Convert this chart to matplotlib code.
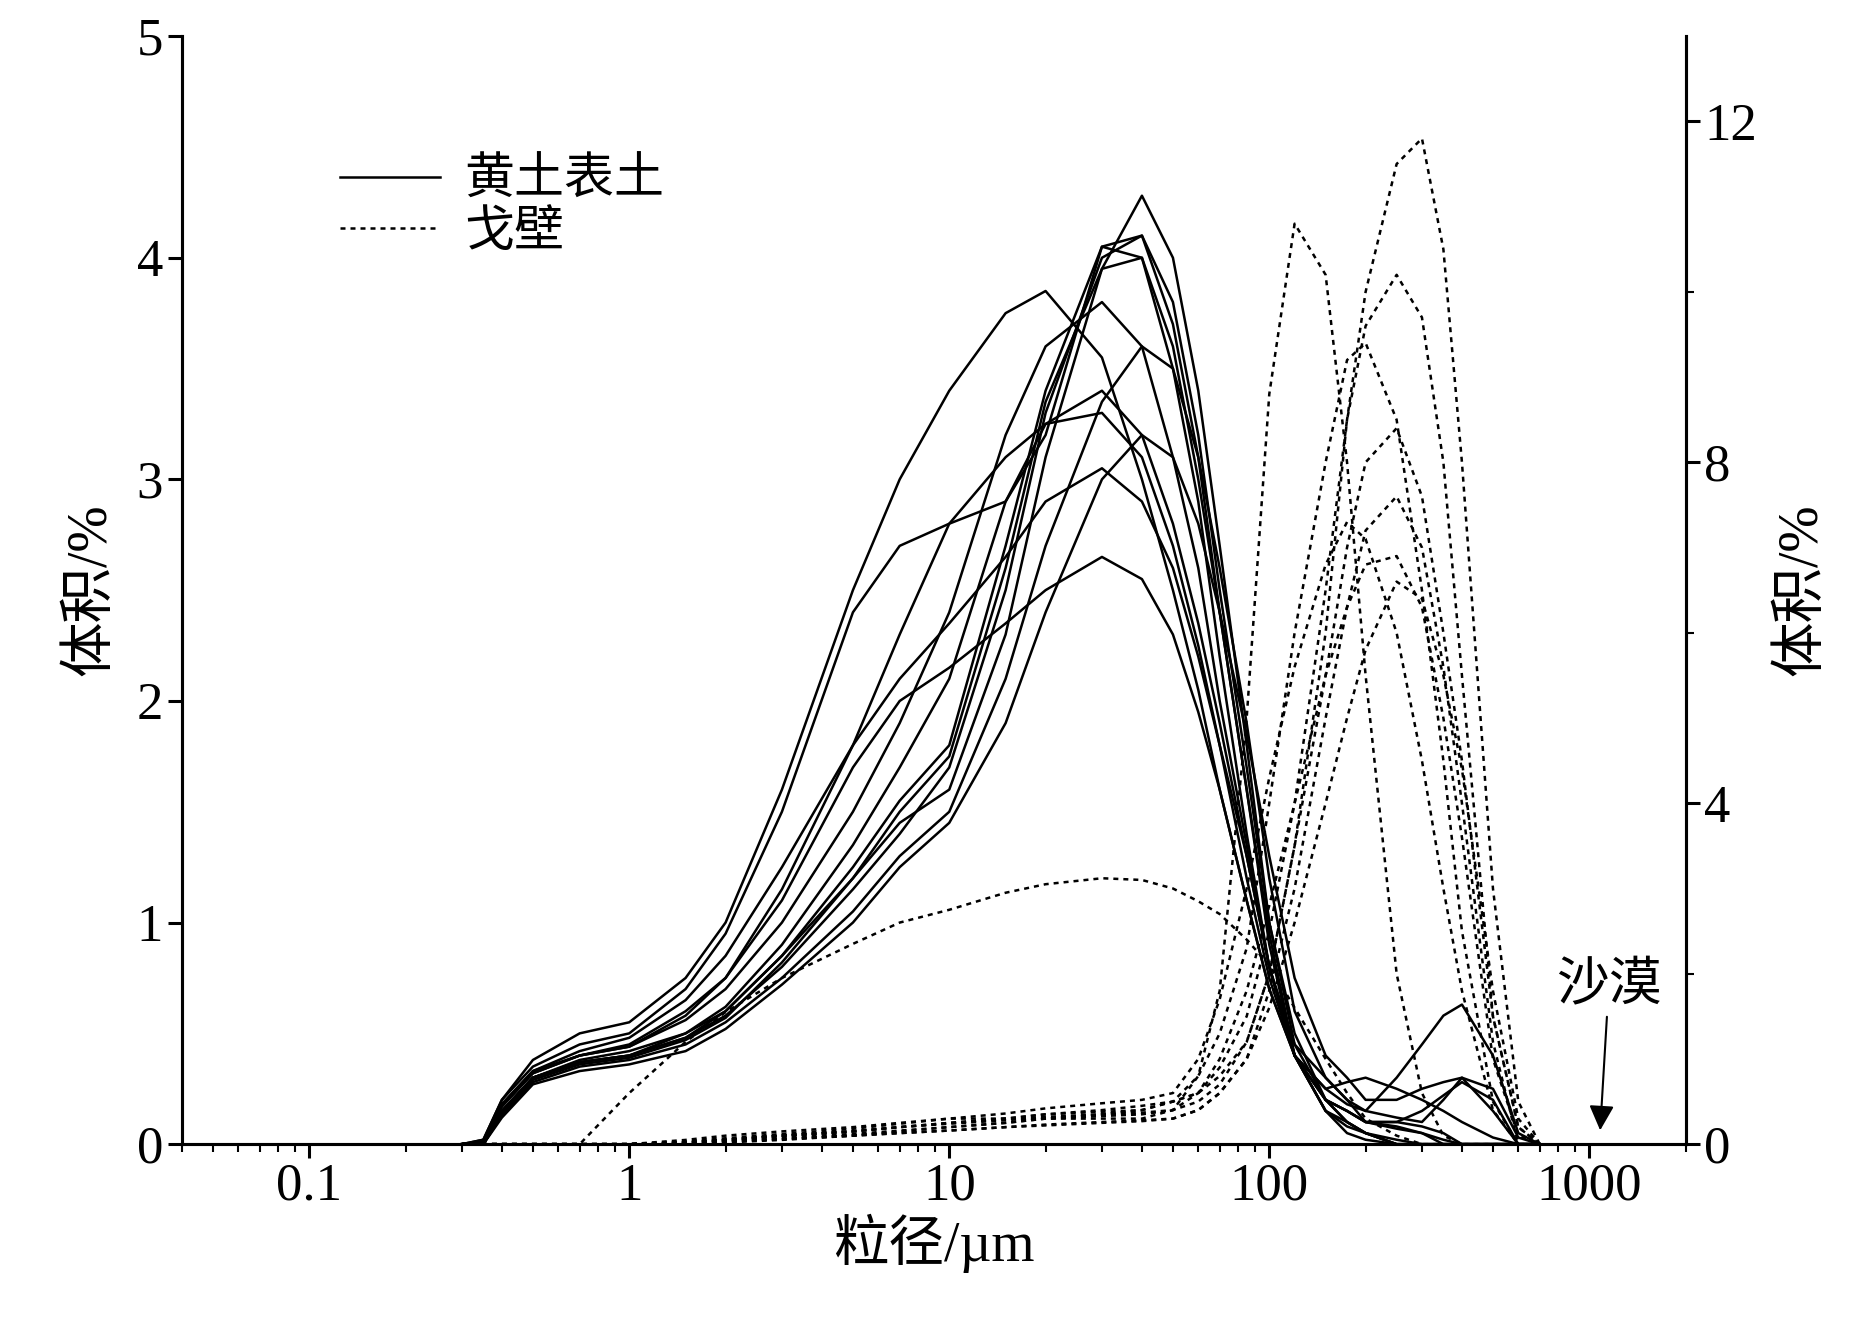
import matplotlib
matplotlib.use("Agg")
import matplotlib.pyplot as plt
from matplotlib.ticker import LogLocator, NullFormatter, MultipleLocator

plt.rcParams['font.family'] = ['Liberation Serif', 'Noto Sans CJK SC']

# 粒径网格 (µm)
size_um = [0.3, 0.35, 0.4, 0.5, 0.7, 1, 1.5, 2, 3, 5, 7, 10, 15, 20, 30, 40, 50,
           60, 70, 85, 100, 120, 150, 175, 200, 250, 300, 350, 400, 500, 600, 700]

# 黄土表土 (左轴, %)
loess = [
    [0, 0, 0.15, 0.3, 0.38, 0.42, 0.5, 0.6, 0.85, 1.2, 1.45, 1.6, 2.3, 3.1, 3.95, 4.28, 4.0,
     3.4, 2.7, 1.8, 1.0, 0.45, 0.2, 0.1, 0.05, 0, 0, 0, 0, 0, 0, 0],
    [0, 0, 0.15, 0.3, 0.37, 0.4, 0.48, 0.58, 0.8, 1.15, 1.4, 1.7, 2.5, 3.3, 4.0, 4.1, 3.7,
     3.1, 2.4, 1.6, 0.9, 0.4, 0.15, 0.08, 0.05, 0.02, 0, 0, 0, 0, 0, 0],
    [0, 0.02, 0.2, 0.38, 0.5, 0.55, 0.75, 1.0, 1.6, 2.5, 3.0, 3.4, 3.75, 3.85, 3.55, 3.0, 2.5,
     2.05, 1.6, 1.1, 0.7, 0.4, 0.2, 0.15, 0.1, 0.07, 0.05, 0.02, 0, 0, 0, 0],
    [0, 0.02, 0.2, 0.35, 0.45, 0.5, 0.7, 0.95, 1.5, 2.4, 2.7, 2.8, 2.9, 3.2, 4.05, 4.0, 3.5,
     2.9, 2.2, 1.4, 0.8, 0.4, 0.25, 0.28, 0.3, 0.25, 0.2, 0.15, 0.1, 0.03, 0, 0],
    [0, 0.01, 0.18, 0.33, 0.42, 0.48, 0.65, 0.85, 1.25, 1.8, 2.1, 2.35, 2.65, 2.9, 3.05, 2.9, 2.6,
     2.2, 1.8, 1.3, 0.8, 0.45, 0.3, 0.2, 0.15, 0.12, 0.1, 0.2, 0.3, 0.25, 0.03, 0],
    [0, 0.01, 0.18, 0.33, 0.4, 0.45, 0.6, 0.75, 1.1, 1.7, 2.0, 2.15, 2.35, 2.5, 2.65, 2.55, 2.3,
     1.95, 1.6, 1.1, 0.7, 0.4, 0.25, 0.18, 0.15, 0.3, 0.45, 0.58, 0.63, 0.4, 0.05, 0],
    [0, 0, 0.15, 0.3, 0.37, 0.4, 0.5, 0.62, 0.9, 1.35, 1.7, 2.1, 2.9, 3.25, 3.4, 3.2, 2.8,
     2.35, 1.9, 1.3, 0.8, 0.4, 0.2, 0.1, 0.05, 0, 0, 0, 0, 0, 0, 0],
    [0, 0, 0.13, 0.28, 0.35, 0.38, 0.45, 0.55, 0.75, 1.05, 1.3, 1.5, 2.1, 2.7, 3.35, 3.6, 3.5,
     3.1, 2.6, 1.9, 1.2, 0.6, 0.3, 0.2, 0.1, 0.1, 0.15, 0.22, 0.28, 0.2, 0, 0],
    [0, 0, 0.12, 0.27, 0.33, 0.36, 0.42, 0.52, 0.72, 1.0, 1.25, 1.45, 1.9, 2.4, 3.0, 3.2, 3.1,
     2.8, 2.4, 1.85, 1.3, 0.75, 0.4, 0.3, 0.2, 0.2, 0.25, 0.28, 0.3, 0.15, 0, 0],
    [0, 0, 0.14, 0.29, 0.36, 0.39, 0.47, 0.57, 0.82, 1.2, 1.5, 1.75, 2.6, 3.35, 3.95, 4.0, 3.6,
     3.0, 2.4, 1.6, 0.95, 0.4, 0.15, 0.05, 0.02, 0, 0, 0, 0, 0, 0, 0],
    [0, 0.01, 0.17, 0.32, 0.4, 0.44, 0.56, 0.7, 1.0, 1.5, 1.9, 2.4, 3.2, 3.6, 3.8, 3.6, 3.1,
     2.6, 2.0, 1.35, 0.8, 0.4, 0.15, 0.1, 0.05, 0, 0, 0, 0, 0, 0, 0],
    [0, 0.01, 0.17, 0.32, 0.4, 0.44, 0.58, 0.75, 1.15, 1.8, 2.3, 2.8, 3.1, 3.25, 3.3, 3.1, 2.7,
     2.25, 1.8, 1.2, 0.75, 0.4, 0.2, 0.15, 0.1, 0.08, 0.05, 0, 0, 0, 0, 0],
    [0, 0, 0.14, 0.3, 0.37, 0.4, 0.48, 0.6, 0.85, 1.25, 1.55, 1.8, 2.7, 3.4, 4.05, 4.1, 3.8,
     3.2, 2.5, 1.7, 1.0, 0.5, 0.2, 0.15, 0.1, 0.1, 0.08, 0.05, 0, 0, 0, 0],
]

# 戈壁 (右轴, %)
gobi = [
    [0, 0, 0, 0, 0, 0, 0.05, 0.1, 0.15, 0.2, 0.25, 0.3, 0.3, 0.3, 0.3, 0.3, 0.4,
     0.8, 1.8, 5.0, 8.8, 10.8, 10.2, 8.0, 5.5, 2.0, 0.6, 0.1, 0, 0, 0, 0],
    [0, 0, 0, 0, 0, 0, 0.02, 0.05, 0.1, 0.15, 0.2, 0.25, 0.3, 0.35, 0.4, 0.45, 0.5,
     0.6, 0.8, 1.2, 2.0, 3.5, 6.0, 8.5, 10.0, 11.5, 11.8, 10.5, 8.0, 3.0, 0.5, 0],
    [0, 0, 0, 0, 0, 0, 0, 0.02, 0.05, 0.1, 0.15, 0.2, 0.25, 0.3, 0.35, 0.4, 0.5,
     0.6, 0.9, 1.5, 2.5, 4.0, 6.5, 8.5, 9.6, 10.2, 9.7, 8.0, 5.5, 1.5, 0.2, 0],
    [0, 0, 0, 0, 0, 0, 0.02, 0.05, 0.1, 0.15, 0.2, 0.25, 0.3, 0.35, 0.38, 0.4, 0.5,
     0.8, 1.3, 2.3, 4.0, 6.0, 8.0, 9.2, 9.4, 8.5, 6.5, 4.5, 2.5, 0.5, 0, 0],
    [0, 0, 0, 0, 0, 0, 0.02, 0.04, 0.08, 0.12, 0.16, 0.2, 0.25, 0.3, 0.33, 0.35, 0.4,
     0.5, 0.7, 1.2, 2.0, 3.5, 5.5, 7.0, 8.0, 8.4, 7.6, 6.0, 4.5, 1.5, 0.2, 0],
    [0, 0, 0, 0, 0, 0, 0.01, 0.03, 0.06, 0.1, 0.13, 0.16, 0.2, 0.22, 0.25, 0.27, 0.3,
     0.4, 0.6, 1.0, 1.8, 3.0, 5.0, 6.3, 7.2, 7.6, 7.0, 5.6, 4.0, 1.2, 0, 0],
    [0, 0, 0, 0, 0, 0, 0.03, 0.07, 0.12, 0.18, 0.24, 0.3, 0.36, 0.42, 0.48, 0.52, 0.6,
     1.0, 1.7, 3.0, 4.3, 5.6, 6.8, 7.3, 7.1, 6.0, 4.5, 3.0, 1.8, 0.4, 0, 0],
    [0, 0, 0, 0, 0, 0, 0.02, 0.05, 0.1, 0.15, 0.2, 0.24, 0.28, 0.32, 0.35, 0.37, 0.4,
     0.6, 1.0, 1.8, 2.8, 4.0, 5.5, 6.3, 6.8, 6.9, 6.3, 5.0, 3.6, 1.0, 0.1, 0],
    [0, 0, 0, 0, 0, 0, 0.01, 0.03, 0.06, 0.1, 0.13, 0.16, 0.2, 0.23, 0.26, 0.28, 0.3,
     0.4, 0.6, 1.0, 1.6, 2.6, 4.0, 5.0, 5.8, 6.6, 6.4, 5.5, 4.4, 1.8, 0.3, 0],
    [0, 0, 0, 0, 0, 0.6, 1.2, 1.55, 1.95, 2.35, 2.6, 2.75, 2.95, 3.05, 3.12, 3.1, 3.0,
     2.85, 2.7, 2.4, 2.1, 1.6, 1.0, 0.6, 0.3, 0.1, 0, 0, 0, 0, 0, 0],
]

fig = plt.figure(figsize=(18.75, 13.39), dpi=100)
ax = fig.add_axes([0.097, 0.1455, 0.802, 0.8275])
ax2 = ax.twinx()

for i, y in enumerate(loess):
    ax.plot(size_um, y, color='black', lw=1.8, label='黄土表土' if i == 0 else None)
for i, y in enumerate(gobi):
    ax2.plot(size_um, y, color='black', lw=1.8, ls=(0, (2, 2)))
ax.plot([], [], color='black', lw=1.8, ls=(0, (2, 2)), label='戈壁')

ax.set_xscale('log')
ax.set_xlim(0.04, 2000)
ax.set_ylim(0, 5)
ax2.set_ylim(0, 13)
ax.set_xticks([0.1, 1, 10, 100, 1000])
ax.set_xticklabels(['0.1', '1', '10', '100', '1000'])
ax.xaxis.set_minor_locator(LogLocator(base=10, subs=range(2, 10), numticks=20))
ax.xaxis.set_minor_formatter(NullFormatter())
ax.yaxis.set_major_locator(MultipleLocator(1))
ax2.yaxis.set_major_locator(MultipleLocator(4))
ax2.yaxis.set_minor_locator(MultipleLocator(2))

for a in (ax, ax2):
    a.spines['top'].set_visible(False)
    for s in a.spines.values():
        s.set_linewidth(2.2)
    a.tick_params(which='major', labelsize=38, width=2.2, length=10, direction='out')
    a.tick_params(which='minor', width=1.5, length=6, direction='out')

ax.set_xlabel('粒径/µm', fontsize=40, labelpad=2)
ax.set_ylabel('体积/%', fontsize=40, labelpad=14)
ax2.set_ylabel('体积/%', fontsize=40, labelpad=14)

ax.legend(loc='upper left', bbox_to_anchor=(0.075, 0.93), frameon=False,
          fontsize=36, handlelength=2.0, labelspacing=0.1, handletextpad=0.5)

ax.annotate('沙漠', xy=(1080, 0.05), xytext=(1150, 0.6), fontsize=38,
            ha='center', va='bottom',
            arrowprops=dict(arrowstyle='-|>', color='black', lw=1.5))

fig.savefig('out.png', dpi=100)
